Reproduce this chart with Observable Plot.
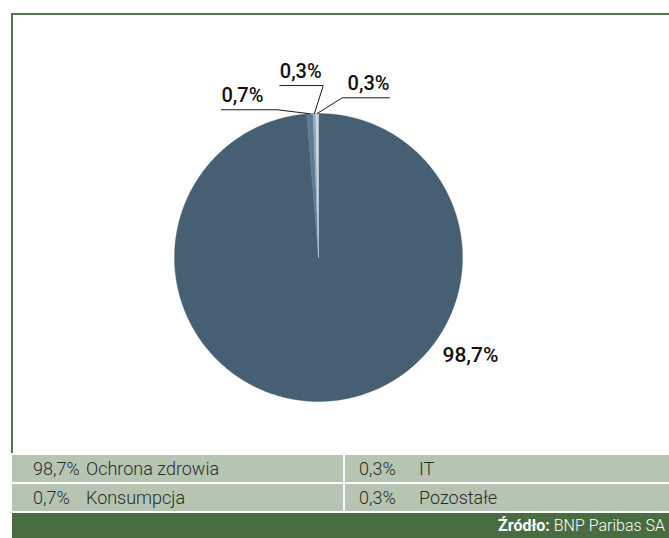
<!DOCTYPE html>
<html>
<head>
<meta charset="utf-8">
<script src="https://cdn.jsdelivr.net/npm/d3@7"></script>
<script src="https://cdn.jsdelivr.net/npm/@observablehq/plot@0.6"></script>
<style>
  html, body { margin: 0; padding: 0; background: #fff; }
  #wrap { position: relative; width: 669px; height: 538px; overflow: hidden; font-family: Roboto, "Noto Sans", sans-serif; }
  #frame { position: absolute; left: 11px; top: 13px; width: 658px; height: 440px; border-top: 2px solid #527a4c; border-left: 2px solid #527a4c; box-sizing: border-box; }
  #chart { position: absolute; left: 0; top: 0; }
  .row { position: absolute; left: 12px; width: 657px; height: 27px; background: #b6c5b2; color: #2b2b2b; font-weight: 300; font-size: 18px; }
  .row span { position: absolute; top: 3px; white-space: nowrap; }
  .divider { position: absolute; left: 343px; top: 455px; width: 2px; height: 56px; background: #fff; }
  #foot { position: absolute; left: 12px; top: 513px; width: 657px; height: 25px; background: #4a6c43; color: #fff; font-size: 16px; font-weight: 300; }
  #foot div { position: absolute; right: 4px; top: 3px; white-space: nowrap; }
  #foot b { font-weight: 700; }
</style>
</head>
<body>
<div id="wrap">
  <div id="frame"></div>
  <div id="chart"></div>
  <div id="table"></div>
  <div id="foot"><div><b>Źródło:</b> BNP Paribas SA</div></div>
</div>
<script>
// ---- data ----
const categories = ["Ochrona zdrowia", "Konsumpcja", "IT", "Pozostałe"];
const shares = [98.7, 0.7, 0.3, 0.3];
const shareLabels = ["98,7%", "0,7%", "0,3%", "0,3%"];
const sliceColors = ["#465f73", "#5b7c92", "#91a9ba", "#cbd6de"];
const sourceText = "BNP Paribas SA";

// ---- layout (in pie-radius units, y up) ----
const R = 144, CX = 318, CY = 257, W = 669, H = 453;
const leaderLayout = [
  null,
  {elbow: [-0.287, 1.026], end: [-0.674, 1.026], anchor: "start"},
  {elbow: [0.033, 1.194], end: [-0.269, 1.194], anchor: "start"},
  {elbow: [0.165, 1.109], end: [0.493, 1.109], anchor: "end"}
];
const freeLabel = {0: {pos: [0.861, -0.681], anchor: "start"}};

const arcs = d3.pie().sort(null).value(d => d)(shares);

const marks = [];
arcs.forEach((a, i) => {
  const pts = [{x: 0, y: 0}];
  const n = Math.max(2, Math.ceil((a.endAngle - a.startAngle) / 0.005));
  for (let k = 0; k <= n; k++) {
    const t = a.startAngle + (a.endAngle - a.startAngle) * k / n;
    pts.push({x: Math.sin(t), y: Math.cos(t)});
  }
  pts.push({x: 0, y: 0});
  marks.push(Plot.line(pts, {x: "x", y: "y", fill: sliceColors[i], stroke: sliceColors[i], strokeWidth: 0.4, curve: "linear"}));
});

const leaders = [], labels = [];
arcs.forEach((a, i) => {
  const mid = (a.startAngle + a.endAngle) / 2;
  const L = leaderLayout[i];
  if (L) {
    leaders.push({id: i, x: Math.sin(mid), y: Math.cos(mid)});
    leaders.push({id: i, x: L.elbow[0], y: L.elbow[1]});
    leaders.push({id: i, x: L.end[0], y: L.end[1]});
    labels.push({x: L.end[0], y: L.end[1], text: shareLabels[i], anchor: L.anchor});
  } else {
    const F = freeLabel[i];
    labels.push({x: F.pos[0], y: F.pos[1], text: shareLabels[i], anchor: F.anchor, dy: 0});
  }
});
marks.push(Plot.line(leaders, {x: "x", y: "y", z: "id", stroke: "#1a1a1a", strokeWidth: 1}));
for (const anchor of ["start", "end"]) {
  marks.push(Plot.text(labels.filter(d => d.anchor === anchor && d.dy !== 0), {
    x: "x", y: "y", text: "text", textAnchor: anchor, dy: -14,
    fontSize: 20, fontWeight: 500, fill: "#111", fontFamily: "Roboto, sans-serif"
  }));
  marks.push(Plot.text(labels.filter(d => d.anchor === anchor && d.dy === 0), {
    x: "x", y: "y", text: "text", textAnchor: anchor,
    fontSize: 21, fontWeight: 500, fill: "#111", fontFamily: "Roboto, sans-serif"
  }));
}

const chart = Plot.plot({
  width: W, height: H,
  marginTop: 0, marginRight: 0, marginBottom: 0, marginLeft: 0,
  x: {domain: [-CX / R, (W - CX) / R], axis: null},
  y: {domain: [-(H - CY) / R, CY / R], axis: null},
  style: {background: "transparent", overflow: "visible"},
  marks
});
document.getElementById("chart").appendChild(chart);

// ---- legend table ----
const table = document.getElementById("table");
const cells = [
  [0, 0], [2, 1],
  [1, 0], [3, 1]
];
const rowTops = [455, 484];
const colX = [[33, 86], [359, 419]];
for (let r = 0; r < 2; r++) {
  const row = document.createElement("div");
  row.className = "row";
  row.style.top = rowTops[r] + "px";
  for (let c = 0; c < 2; c++) {
    const idx = cells[r * 2 + c][0];
    const p = document.createElement("span");
    p.style.left = (colX[c][0] - 12) + "px";
    p.textContent = shareLabels[idx];
    const nm = document.createElement("span");
    nm.style.left = (colX[c][1] - 12) + "px";
    nm.textContent = categories[idx];
    row.appendChild(p); row.appendChild(nm);
  }
  table.appendChild(row);
}
const dv = document.createElement("div");
dv.className = "divider";
table.appendChild(dv);
</script>
</body>
</html>
